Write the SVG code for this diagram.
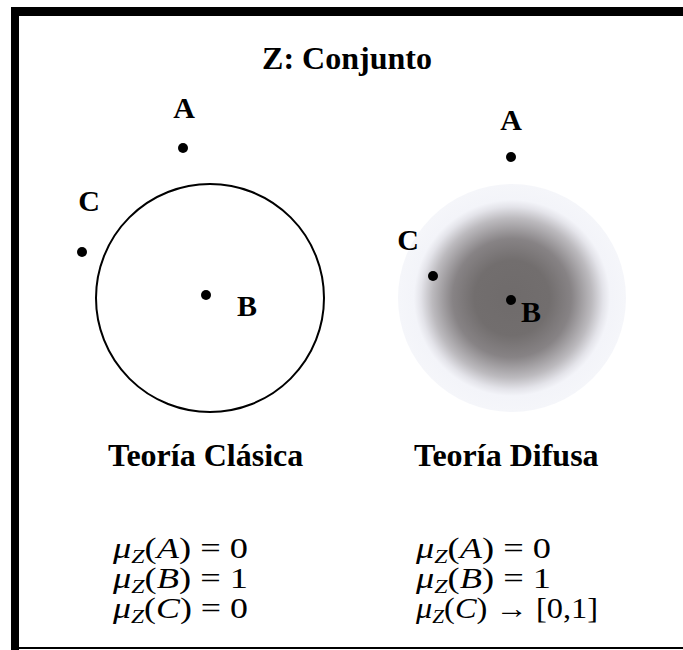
<svg xmlns="http://www.w3.org/2000/svg" width="683" height="650" viewBox="0 0 683 650">
<style>
.lbl{font-family:"Liberation Serif","Times New Roman",serif;font-weight:bold;fill:#000}
.big{font-size:32px}
.pt{font-size:30px}
.m{font-family:"Liberation Serif","Times New Roman",serif;font-size:29px;fill:#000}
.i{font-style:italic}
.dot{fill:#000}
</style>
<defs>
<radialGradient id="fz" cx="0.5" cy="0.5" r="0.5">
<stop offset="0" stop-color="#6f6b6b"/>
<stop offset="0.33" stop-color="#726e6e"/>
<stop offset="0.52" stop-color="#878385"/>
<stop offset="0.7" stop-color="#bcbabe"/>
<stop offset="0.8" stop-color="#e3e3e9"/>
<stop offset="0.86" stop-color="#f3f4f9"/>
<stop offset="1" stop-color="#f5f6fa"/>
</radialGradient>
</defs>
<rect width="683" height="650" fill="#fff"/>
<g id="frame">
<rect x="11" y="7" width="672" height="9" fill="#000"/>
<rect x="11" y="7" width="8" height="643" fill="#000"/>
<rect x="11" y="647" width="672" height="2" fill="#000"/>
</g>
<text id="title" class="lbl big" x="347" y="69" text-anchor="middle">Z: Conjunto</text>
<g id="classic">
<circle cx="210" cy="298" r="114" fill="none" stroke="#000" stroke-width="2"/>
<g id="cA"><circle class="dot" cx="183" cy="148" r="5"/><text class="lbl pt" x="184" y="118" text-anchor="middle">A</text></g>
<g id="cB"><circle class="dot" cx="206" cy="295" r="5"/><text class="lbl pt" x="247" y="316" text-anchor="middle">B</text></g>
<g id="cC"><circle class="dot" cx="82" cy="252" r="5"/><text class="lbl pt" x="89" y="211" text-anchor="middle">C</text></g>
<text class="lbl big" x="108" y="466">Teoría Clásica</text>
<text class="m" x="113" y="558" textLength="135" lengthAdjust="spacingAndGlyphs"><tspan class="i">μ</tspan><tspan class="i" font-size="19" dy="5">Z</tspan><tspan dy="-5">(</tspan><tspan class="i">A</tspan>) = 0</text>
<text class="m" x="113" y="588" textLength="135" lengthAdjust="spacingAndGlyphs"><tspan class="i">μ</tspan><tspan class="i" font-size="19" dy="5">Z</tspan><tspan dy="-5">(</tspan><tspan class="i">B</tspan>) = 1</text>
<text class="m" x="113" y="618" textLength="135" lengthAdjust="spacingAndGlyphs"><tspan class="i">μ</tspan><tspan class="i" font-size="19" dy="5">Z</tspan><tspan dy="-5">(</tspan><tspan class="i">C</tspan>) = 0</text>
</g>
<g id="fuzzy">
<circle cx="512" cy="298" r="114" fill="url(#fz)"/>
<g id="fA"><circle class="dot" cx="511" cy="157" r="5"/><text class="lbl pt" x="511" y="130" text-anchor="middle">A</text></g>
<g id="fB"><circle class="dot" cx="511" cy="300" r="5"/><text class="lbl pt" x="531" y="322" text-anchor="middle">B</text></g>
<g id="fC"><circle class="dot" cx="433" cy="276" r="5"/><text class="lbl pt" x="408" y="250" text-anchor="middle">C</text></g>
<text class="lbl big" x="414" y="466">Teoría Difusa</text>
<text class="m" x="416" y="558" textLength="135" lengthAdjust="spacingAndGlyphs"><tspan class="i">μ</tspan><tspan class="i" font-size="19" dy="5">Z</tspan><tspan dy="-5">(</tspan><tspan class="i">A</tspan>) = 0</text>
<text class="m" x="416" y="588" textLength="135" lengthAdjust="spacingAndGlyphs"><tspan class="i">μ</tspan><tspan class="i" font-size="19" dy="5">Z</tspan><tspan dy="-5">(</tspan><tspan class="i">B</tspan>) = 1</text>
<text class="m" x="416" y="618" textLength="182" lengthAdjust="spacingAndGlyphs"><tspan class="i">μ</tspan><tspan class="i" font-size="19" dy="5">Z</tspan><tspan dy="-5">(</tspan><tspan class="i">C</tspan>) → [0,1]</text>
</g>
</svg>
